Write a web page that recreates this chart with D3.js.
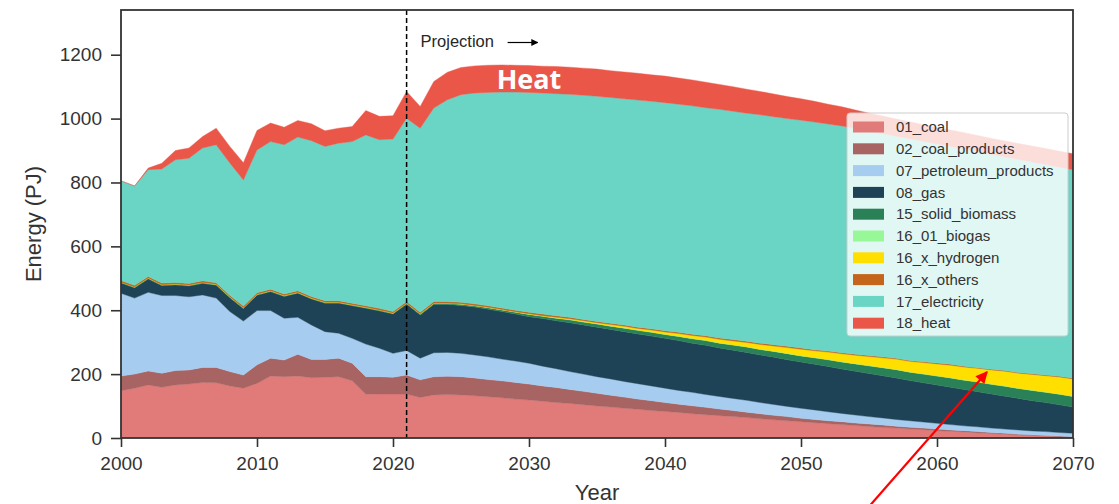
<!DOCTYPE html>
<html>
<head>
<meta charset="utf-8">
<script src="https://cdn.jsdelivr.net/npm/d3@7"></script>
<style>
  body { margin: 0; background: #ffffff; }
  svg { display: block; }
</style>
</head>
<body>
<svg id="chart" width="1119" height="504"></svg>
<script>
// Final energy demand by fuel, 2000 history and projection to 2070 (PJ)
const years = d3.range(2000, 2071);

const coal = [148,156,166,159,166,169,174,173,163,156,171,194,192,194,189,190,192,179,137,138,138,138,
  127,135,136,135,132,129,126,122,119,115,111,108,104,100,97,93,90,86,83,80,76,73,70,67,64,60,57,54,51,48,45,42,39,36,33,31,28,26,23,21,19,16,14,12,10,8,6,4,2];

const coalProducts = [46,44,44,44,45,44,47,48,45,41,58,56,52,68,57,56,58,55,55,54,52,59,
  55,57,57,57,56,54,53,52,50,48,47,44,42,40,37,35,32,31,28,26,25,23,21,19,17,16,14,13,11,10,9,9,8,8,8,6,6,5,5,4,4,4,3,3,2,2,2,2,2];

const petroleumProducts = [259,238,246,243,235,229,227,217,188,169,170,149,131,116,108,87,78,78,102,89,75,77,
  68,75,75,73,72,71,68,67,65,62,59,56,54,52,51,49,48,46,45,43,42,40,39,38,37,35,34,32,31,30,28,26,25,23,22,21,20,19,18,17,15,15,14,13,13,12,12,11,11];

const gas = [32,32,42,31,33,34,36,40,43,39,48,59,68,75,81,89,94,102,112,117,123,145,
  135,151,150,150,150,149,149,147,146,149,150,153,154,155,155,156,156,156,156,156,154,154,152,151,150,149,148,146,145,143,142,139,137,135,132,130,126,123,120,117,114,110,107,103,99,95,91,87,82];

const solidBiomass = [2.5,2.5,2.5,2.5,2.5,2.5,2.5,2.5,2.5,2.5,2.5,2.5,2.5,2.5,2.5,2.5,2.5,2.5,2.5,2.5,2.5,2.5,
  3,3,3,4,4,5,5,6,7,7,8,9,9,10,10,11,11,12,12,13,14,15,15,16,17,17,18,19,19,20,21,22,23,24,25,26,26,27,28,29,29,30,30,31,31,32,32,33,33];

const biogas = [0.5,0.5,0.5,0.5,0.5,0.5,0.5,0.5,0.5,0.5,0.5,0.5,0.5,0.5,0.5,0.5,0.5,0.5,0.5,0.5,0.5,0.5,
  1,1,1,1,1,1,1,1,1,1,1,1,1,1,1,1,1,1,1,1,1,1,1,1,1,1,1,1,1,1,1,1,1,1,1,1,1,1,1,1,1,1,1,1,1,1,1,1,1];

const hydrogen = [0,0,0,0,0,0,0,0,0,0,0,0,0,0,0,0,0,0,0,0,0,0,0,0,0,0,0,0,0,0,
  1,1,2,2,3,3,4,5,5,6,7,8,9,10,11,12,13,15,16,18,20,21,23,25,26,28,30,32,33,35,37,39,40,42,44,46,47,49,51,53,54];

const others = [5,5,5,5,5,5,5,5,5,5,5,5,5,5,5,5,5,5,5,5,5,5,
  5,5,5,5,5,5,5,5,5,5,5,5,4,4,4,4,4,4,4,4,4,4,4,4,4,4,4,4,4,3,3,3,3,3,3,3,3,3,3,3,3,2,2,2,2,2,2,2,2];

const electricity = [312,311,334,357,384,392,416,432,414,395,447,462,467,481,488,483,493,506,535,528,540,574,
  576,606,632,650,660,668,676,683,688,692,695,698,702,705,707,708,711,712,714,714,715,714,716,715,714,715,714,713,713,713,711,710,707,703,699,695,694,690,686,682,680,677,673,669,667,663,659,655,653];

const heat = [0,0,5,18,29,32,36,52,52,54,61,58,55,52,53,49,47,47,76,73,73,84,
  68,83,86,85,85,85,85,84,84,84,85,85,85,85,84,84,84,83,83,82,81,80,78,77,75,73,71,69,67,65,62,60,58,56,55,54,53,52,51,51,51,50,50,50,50,50,50,50,50];

const fuelKeys = ["01_coal","02_coal_products","07_petroleum_products","08_gas","15_solid_biomass",
  "16_01_biogas","16_x_hydrogen","16_x_others","17_electricity","18_heat"];
const fuelSeries = [coal, coalProducts, petroleumProducts, gas, solidBiomass, biogas, hydrogen, others, electricity, heat];
const fuelColors = ["#e07b7a","#a86463","#a6cdf0","#1e4356","#2a8157","#98f898","#ffdf00","#c4651b","#6ad4c5","#ea5748"];

const yTicks = [0,200,400,600,800,1000,1200];
const xTicks = [2000,2010,2020,2030,2040,2050,2060,2070];
const projectionStart = 2021;

const W = 1119, H = 504;
const margin = { top: 10, right: 46, bottom: 66, left: 121 };
const iw = W - margin.left - margin.right;
const ih = H - margin.top - margin.bottom;
const FONT = "'Liberation Sans', Arial, Helvetica, sans-serif";
const INK = "#262626";

const svg = d3.select("#chart");
const g = svg.append("g").attr("transform", `translate(${margin.left},${margin.top})`);

const x = d3.scaleLinear().domain([2000, 2070]).range([0, iw]);
const y = d3.scaleLinear().domain([0, 1340]).range([ih, 0]);

const rows = years.map((yr, i) => {
  const r = { year: yr };
  fuelKeys.forEach((k, j) => { r[k] = fuelSeries[j][i]; });
  return r;
});
const stacked = d3.stack().keys(fuelKeys)(rows);

const area = d3.area()
  .x(d => x(d.data.year))
  .y0(d => y(d[0]))
  .y1(d => y(d[1]))
  .curve(d3.curveLinear);

g.append("defs").append("clipPath").attr("id", "plotClip")
  .append("rect").attr("width", iw).attr("height", ih);

const layers = g.append("g").attr("clip-path", "url(#plotClip)");
layers.selectAll("path")
  .data(stacked)
  .join("path")
  .attr("d", area)
  .attr("fill", (d, i) => fuelColors[i])
  .attr("stroke", (d, i) => fuelColors[i])
  .attr("stroke-width", 0.4);

// projection marker
g.append("line")
  .attr("x1", x(projectionStart)).attr("x2", x(projectionStart))
  .attr("y1", 0).attr("y2", ih)
  .attr("stroke", "#000").attr("stroke-width", 1.5)
  .attr("stroke-dasharray", "5,3");

const defs = svg.append("defs");
defs.append("marker").attr("id", "blackHead")
  .attr("viewBox", "0 0 10 10").attr("refX", 9).attr("refY", 5)
  .attr("markerWidth", 7).attr("markerHeight", 7).attr("markerUnits", "userSpaceOnUse")
  .attr("orient", "auto")
  .append("path").attr("d", "M0,0 L10,5 L0,10 Z").attr("fill", "#000");
defs.append("marker").attr("id", "redHead")
  .attr("viewBox", "0 0 10 10").attr("refX", 9).attr("refY", 5)
  .attr("markerWidth", 14).attr("markerHeight", 12).attr("markerUnits", "userSpaceOnUse")
  .attr("orient", "auto")
  .append("path").attr("d", "M0,0 L10,5 L0,10 Z").attr("fill", "#ff0000");

g.append("text")
  .attr("x", x(projectionStart) + 14).attr("y", 37)
  .attr("font-family", FONT).attr("font-size", 16.5).attr("fill", INK)
  .text("Projection");
g.append("line")
  .attr("x1", x(projectionStart) + 101).attr("x2", x(projectionStart) + 131)
  .attr("y1", 32.5).attr("y2", 32.5)
  .attr("stroke", "#000").attr("stroke-width", 1.2)
  .attr("marker-end", "url(#blackHead)");

// in-chart label for the heat band
g.append("text")
  .attr("x", x(2030)).attr("y", 79)
  .attr("text-anchor", "middle")
  .attr("font-family", "'Open Sans', 'Noto Sans', sans-serif")
  .attr("font-weight", 700).attr("font-size", 27).attr("fill", "#ffffff")
  .text("Heat");

// frame
g.append("rect").attr("width", iw).attr("height", ih)
  .attr("fill", "none").attr("stroke", "#333").attr("stroke-width", 1.8);

// axes
const yAxis = g.append("g")
  .call(d3.axisLeft(y).tickValues(yTicks).tickFormat(d3.format("d")).tickSize(10).tickPadding(9).tickSizeOuter(0));
const xAxis = g.append("g").attr("transform", `translate(0,${ih})`)
  .call(d3.axisBottom(x).tickValues(xTicks).tickFormat(d3.format("d")).tickSize(9).tickPadding(10).tickSizeOuter(0));
[xAxis, yAxis].forEach(a => {
  a.select(".domain").remove();
  a.selectAll(".tick line").attr("stroke", "#333").attr("stroke-width", 1.6);
  a.selectAll(".tick text").attr("font-family", FONT).attr("font-size", 19).attr("fill", "#333");
});

g.append("text")
  .attr("x", iw / 2).attr("y", ih + 62)
  .attr("text-anchor", "middle")
  .attr("font-family", FONT).attr("font-size", 22).attr("fill", "#333")
  .text("Year");
g.append("text")
  .attr("transform", `translate(${41 - margin.left},${ih / 2}) rotate(-90)`)
  .attr("text-anchor", "middle")
  .attr("font-family", FONT).attr("font-size", 22).attr("fill", "#333")
  .text("Energy (PJ)");

// legend
const legend = svg.append("g").attr("transform", "translate(847,113)");
legend.append("rect")
  .attr("width", 221).attr("height", 223).attr("rx", 3)
  .attr("fill", "#ffffff").attr("fill-opacity", 0.8)
  .attr("stroke", "#cccccc").attr("stroke-width", 1);
const items = legend.selectAll("g.item").data(fuelKeys).join("g")
  .attr("class", "item")
  .attr("transform", (d, i) => `translate(6,${14 + i * 21.8})`);
items.append("rect")
  .attr("x", 0).attr("y", -5.5).attr("width", 31).attr("height", 11)
  .attr("fill", (d, i) => fuelColors[i]);
items.append("text")
  .attr("x", 43).attr("y", 0).attr("dy", "0.35em")
  .attr("font-family", FONT).attr("font-size", 15).attr("fill", "#333")
  .text(d => d);

// red pointer to the hydrogen band
svg.append("line")
  .attr("x1", 866).attr("y1", 510).attr("x2", 987).attr("y2", 372)
  .attr("stroke", "#ff0000").attr("stroke-width", 2.2)
  .attr("marker-end", "url(#redHead)");
</script>
</body>
</html>
